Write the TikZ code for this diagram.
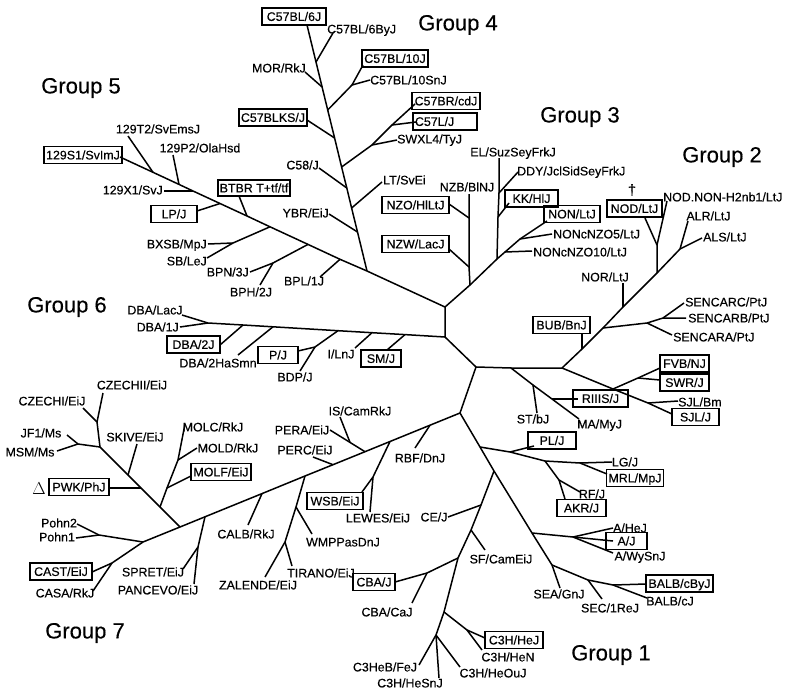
\documentclass[tikz,border=0pt]{standalone}
\usepackage{fontspec}
\setmainfont{Liberation Sans}[FakeBold=0.35]
\begin{document}
\begin{tikzpicture}[x=1pt,y=-1pt,
  edge/.style={line width=1.5pt,line join=round},
  lbl/.style={inner sep=0pt,text height=8.8pt,text depth=0pt,font=\fontsize{12.4}{14}\selectfont},
  bx/.style={draw,line width=1.6pt,inner xsep=2pt,inner ysep=0pt,minimum height=17pt,text height=8.8pt,text depth=0pt,font=\fontsize{12.4}{14}\selectfont},
  grp/.style={inner sep=0pt,font=\fontsize{22}{26}\selectfont}]
\useasboundingbox (0,0) rectangle (789,696);
% ---------------- core
\coordinate (c1) at (445,307);
\coordinate (c2) at (445,337);
\coordinate (c3) at (476,367);
\coordinate (c4) at (460,413);
\coordinate (c5) at (562,368);
\coordinate (m1) at (511,368);
\draw[edge] (c1) -- (c2) -- (c3) -- (c4);
\draw[edge] (c3) -- (m1) -- (c5);
% ---------------- group 5 line
\coordinate (g4j) at (367,271);
\coordinate (bplj) at (340,259.3);
\coordinate (bpnj) at (308,244.4);
\coordinate (bxj) at (270,226.8);
\coordinate (btj) at (247,216);
\coordinate (lpj) at (220,203.5);
\coordinate (x1j) at (193,191);
\coordinate (p2j) at (179,184.4);
\coordinate (t2j) at (153,172.3);
\coordinate (s1e) at (120,157);
\draw[edge] (c1) -- (g4j) -- (bplj) -- (bpnj) -- (bxj) -- (btj) -- (lpj) -- (x1j) -- (p2j) -- (t2j) -- (s1e);
\coordinate (bple) at (320,277);
\coordinate (bpnk) at (273,263);
\coordinate (bpne) at (250,272);
\coordinate (bphe) at (260,285);
\coordinate (bxk) at (233,243);
\coordinate (bxe) at (208,244);
\coordinate (sbe) at (207,258);
\coordinate (bte) at (239,196);
\coordinate (lpe) at (197,211);
\coordinate (x1e) at (164,191);
\coordinate (p2e) at (173,155);
\coordinate (t2e) at (128,136);
\draw[edge] (bplj) -- (bple);
\draw[edge] (bpnj) -- (bpnk) -- (bpne);
\draw[edge] (bpnk) -- (bphe);
\draw[edge] (bxj) -- (bxk) -- (bxe);
\draw[edge] (bxk) -- (sbe);
\draw[edge] (btj) -- (bte);
\draw[edge] (lpj) -- (lpe);
\draw[edge] (x1j) -- (x1e);
\draw[edge] (p2j) -- (p2e);
\draw[edge] (t2j) -- (t2e);
% ---------------- group 4 trunk
\coordinate (ybrj) at (357.5,232);
\coordinate (ltj) at (351.6,208);
\coordinate (c58j) at (346.8,188);
\coordinate (swj) at (341.6,167);
\coordinate (ksj) at (334.6,138);
\coordinate (b10j) at (327.7,110);
\coordinate (morj) at (322.1,87);
\coordinate (byj) at (316,62);
\coordinate (b6e) at (307,25);
\draw[edge] (g4j) -- (ybrj) -- (ltj) -- (c58j) -- (swj) -- (ksj) -- (b10j) -- (morj) -- (byj) -- (b6e);
\coordinate (ybre) at (329,214);
\coordinate (lte) at (382,182);
\coordinate (c58e) at (319,168);
\coordinate (swk) at (372,145);
\coordinate (swe) at (397,140);
\coordinate (clk) at (392,125);
\coordinate (cle) at (416,122);
\coordinate (cbre) at (415,104);
\coordinate (kse) at (307,120);
\coordinate (b10k) at (352,85);
\coordinate (b10se) at (370,80);
\coordinate (b10e) at (363,65);
\coordinate (more) at (305,72);
\coordinate (bye) at (333,33);
\draw[edge] (ybrj) -- (ybre);
\draw[edge] (ltj) -- (lte);
\draw[edge] (c58j) -- (c58e);
\draw[edge] (swj) -- (swk) -- (swe);
\draw[edge] (swk) -- (clk) -- (cle);
\draw[edge] (clk) -- (cbre);
\draw[edge] (ksj) -- (kse);
\draw[edge] (b10j) -- (b10k) -- (b10se);
\draw[edge] (b10k) -- (b10e);
\draw[edge] (morj) -- (more);
\draw[edge] (byj) -- (bye);
% ---------------- group 3
\coordinate (nzbj) at (470,285);
\coordinate (elj) at (497,259);
\coordinate (n10j) at (505,252);
\coordinate (n5j) at (520,239);
\coordinate (none) at (547,221);
\draw[edge] (c1) -- (nzbj) -- (elj) -- (n10j) -- (n5j) -- (none);
\coordinate (nzbk1) at (469,267);
\coordinate (nzbk2) at (469,218);
\coordinate (nzbe) at (469,194);
\coordinate (nzwe) at (449,249);
\coordinate (nzoe) at (449,204);
\draw[edge] (nzbj) -- (nzbk1) -- (nzbk2) -- (nzbe);
\draw[edge] (nzbk1) -- (nzwe);
\draw[edge] (nzbk2) -- (nzoe);
\coordinate (elk1) at (498,217);
\coordinate (elk2) at (499,193);
\coordinate (ele) at (499,158);
\coordinate (kke) at (509,203);
\coordinate (ddye) at (518,172);
\coordinate (n10e) at (532,251);
\coordinate (n5e) at (552,234);
\draw[edge] (elj) -- (elk1) -- (elk2) -- (ele);
\draw[edge] (elk1) -- (kke);
\draw[edge] (elk2) -- (ddye);
\draw[edge] (n10j) -- (n10e);
\draw[edge] (n5j) -- (n5e);
% ---------------- group 6
\coordinate (smj) at (405,334.6);
\coordinate (ilj) at (372,332.7);
\coordinate (pjj) at (338,330.7);
\coordinate (d2hj) at (273,326.8);
\coordinate (d2j) at (243,325);
\coordinate (d6e) at (208,323);
\draw[edge] (c2) -- (smj) -- (ilj) -- (pjj) -- (d2hj) -- (d2j) -- (d6e);
\coordinate (sme) at (387,350);
\coordinate (ile) at (355,348);
\coordinate (pjk) at (315,347);
\coordinate (pje) at (298,351);
\coordinate (bdpe) at (300,371);
\coordinate (d2he) at (238,355);
\coordinate (d2e) at (220,345);
\coordinate (d1e) at (180,327);
\coordinate (dlace) at (182,315);
\draw[edge] (smj) -- (sme);
\draw[edge] (ilj) -- (ile);
\draw[edge] (pjj) -- (pjk) -- (pje);
\draw[edge] (pjk) -- (bdpe);
\draw[edge] (d2hj) -- (d2he);
\draw[edge] (d2j) -- (d2e);
\draw[edge] (d6e) -- (d1e);
\draw[edge] (d6e) -- (dlace);
% ---------------- group 2
\coordinate (bubj) at (582,349);
\coordinate (senj) at (603,328);
\coordinate (norj) at (623,307);
\coordinate (nodj) at (657,273);
\coordinate (alrj) at (680,249);
\draw[edge] (c5) -- (bubj) -- (senj) -- (norj) -- (nodj) -- (alrj);
\coordinate (bube) at (582,334);
\coordinate (senk1) at (647,323);
\coordinate (sena) at (672,335);
\coordinate (senk2) at (663,318);
\coordinate (senb) at (686,318);
\coordinate (senc) at (684,303);
\coordinate (nore) at (623,283);
\coordinate (nodk) at (657,245);
\coordinate (node) at (645,218);
\coordinate (nonhe) at (667,201);
\coordinate (alre) at (688,221);
\coordinate (alse) at (702,238);
\draw[edge] (bubj) -- (bube);
\draw[edge] (senj) -- (senk1) -- (sena);
\draw[edge] (senk1) -- (senk2) -- (senb);
\draw[edge] (senk2) -- (senc);
\draw[edge] (norj) -- (nore);
\draw[edge] (nodj) -- (nodk) -- (node);
\draw[edge] (nodk) -- (nonhe);
\draw[edge] (alrj) -- (alre);
\draw[edge] (alrj) -- (alse);
% FVB / SJL
\coordinate (fvbj) at (613,389);
\coordinate (sjlj) at (648,403);
\coordinate (sjle) at (672,414);
\coordinate (swrj) at (638,378);
\coordinate (fvbe) at (660,368);
\coordinate (swre) at (660,380);
\coordinate (sjlbe) at (678,401);
\draw[edge] (c5) -- (fvbj) -- (sjlj) -- (sjle);
\draw[edge] (fvbj) -- (swrj) -- (fvbe);
\draw[edge] (swrj) -- (swre);
\draw[edge] (sjlj) -- (sjlbe);
% ST / RIIIS / MA
\coordinate (stj) at (533,385);
\coordinate (riij) at (552,399);
\coordinate (mae) at (579,419);
\coordinate (ste) at (537,413);
\coordinate (riie) at (578,399);
\draw[edge] (m1) -- (stj) -- (riij) -- (mae);
\draw[edge] (stj) -- (ste);
\draw[edge] (riij) -- (riie);
% ---------------- group 1
\coordinate (g1a) at (480,447);
\coordinate (g1b) at (494,471);
\coordinate (g1c) at (532,533);
\coordinate (g1d) at (552,565);
\coordinate (seae) at (560,588);
\draw[edge] (c4) -- (g1a) -- (g1b) -- (g1c) -- (g1d) -- (seae);
\coordinate (plj) at (510,452);
\coordinate (akrj) at (545,461);
\coordinate (lgj) at (580,463);
\coordinate (lge) at (612,462);
\coordinate (mrle) at (607,474);
\coordinate (ple) at (534,446);
\coordinate (rfj) at (559,480);
\coordinate (rfe) at (580,492);
\coordinate (akre) at (565,499);
\draw[edge] (g1a) -- (plj) -- (akrj) -- (lgj) -- (lge);
\draw[edge] (lgj) -- (mrle);
\draw[edge] (plj) -- (ple);
\draw[edge] (akrj) -- (rfj) -- (rfe);
\draw[edge] (rfj) -- (akre);
\coordinate (aj) at (573,537);
\coordinate (ahe) at (613,528);
\coordinate (aje) at (613,541);
\coordinate (awe) at (613,553);
\draw[edge] (g1c) -- (aj) -- (ahe);
\draw[edge] (aj) -- (aje);
\draw[edge] (aj) -- (awe);
\coordinate (bj1) at (588,580);
\coordinate (bj2) at (613,585);
\coordinate (bcbye) at (646,584);
\coordinate (bce) at (647,598);
\coordinate (sece) at (602,599);
\draw[edge] (g1d) -- (bj1) -- (bj2) -- (bcbye);
\draw[edge] (bj2) -- (bce);
\draw[edge] (bj1) -- (sece);
\coordinate (cej) at (481,505);
\coordinate (sfj) at (471,530);
\coordinate (cbaj) at (458,558);
\coordinate (c3j1) at (444,612);
\coordinate (c3j2) at (436,635);
\draw[edge] (g1b) -- (cej) -- (sfj) -- (cbaj) -- (c3j1) -- (c3j2);
\coordinate (cee) at (448,517);
\coordinate (sfe) at (485,550);
\coordinate (cbak) at (427,573);
\coordinate (cbae) at (395,582);
\coordinate (cbcae) at (412,603);
\coordinate (c3k) at (467,630);
\coordinate (c3hje) at (485,638);
\coordinate (c3hne) at (482,650);
\coordinate (c3hebe) at (419,665);
\coordinate (snje) at (439,678);
\coordinate (ouje) at (460,667);
\draw[edge] (cej) -- (cee);
\draw[edge] (sfj) -- (sfe);
\draw[edge] (cbaj) -- (cbak) -- (cbae);
\draw[edge] (cbak) -- (cbcae);
\draw[edge] (c3j1) -- (c3k) -- (c3hje);
\draw[edge] (c3k) -- (c3hne);
\draw[edge] (c3j2) -- (c3hebe);
\draw[edge] (c3j2) -- (snje);
\draw[edge] (c3j2) -- (ouje);
% ---------------- group 7
\coordinate (rbfj) at (430,425.2);
\coordinate (wsbj) at (390,441.5);
\coordinate (peraj) at (365,451.7);
\coordinate (percj) at (333,464.7);
\coordinate (zalj) at (305,476);
\coordinate (calbj) at (262,493.6);
\coordinate (spj) at (205,516.8);
\coordinate (subj) at (180,527);
\coordinate (pohnj) at (143,542);
\coordinate (casaj) at (112,563);
\coordinate (caste) at (92,572);
\draw[edge] (c4) -- (rbfj) -- (wsbj) -- (peraj) -- (percj) -- (zalj) -- (calbj) -- (spj) -- (subj) -- (pohnj) -- (casaj) -- (caste);
\coordinate (rbfe) at (415,448);
\coordinate (wsbk) at (373,477);
\coordinate (wsbe) at (362,492);
\coordinate (lewe) at (370,512);
\coordinate (isj) at (350,442.4);
\coordinate (perae) at (330,430);
\coordinate (ise) at (340,417);
\coordinate (perce) at (313,457);
\coordinate (wmpj) at (296,507);
\coordinate (zalk) at (285,542);
\coordinate (zale) at (265,577);
\coordinate (tire) at (292,566);
\coordinate (wmpe) at (312,534);
\coordinate (calbe) at (248,525);
\coordinate (spk) at (198,547);
\coordinate (spre) at (183,569);
\coordinate (pane) at (194,584);
\draw[edge] (rbfj) -- (rbfe);
\draw[edge] (wsbj) -- (wsbk) -- (wsbe);
\draw[edge] (wsbk) -- (lewe);
\draw[edge] (peraj) -- (isj) -- (perae);
\draw[edge] (isj) -- (ise);
\draw[edge] (percj) -- (perce);
\draw[edge] (zalj) -- (wmpj) -- (zalk) -- (zale);
\draw[edge] (zalk) -- (tire);
\draw[edge] (wmpj) -- (wmpe);
\draw[edge] (calbj) -- (calbe);
\draw[edge] (spj) -- (spk) -- (spre);
\draw[edge] (spk) -- (pane);
\coordinate (molj) at (160,507);
\coordinate (pwkj) at (141,488);
\coordinate (skj) at (128,475);
\coordinate (sub2) at (100,447);
\coordinate (czj) at (97,422);
\coordinate (cz2e) at (103,393);
\coordinate (cz1e) at (83,408);
\draw[edge] (subj) -- (molj) -- (pwkj) -- (skj) -- (sub2) -- (czj) -- (cz2e);
\draw[edge] (czj) -- (cz1e);
\coordinate (molfj) at (167,488);
\coordinate (moldj) at (178,460);
\coordinate (molce) at (185,424);
\coordinate (molfe) at (191,476);
\coordinate (molde) at (197,448);
\draw[edge] (molj) -- (molfj) -- (moldj) -- (molce);
\draw[edge] (molfj) -- (molfe);
\draw[edge] (moldj) -- (molde);
\coordinate (pwke) at (109,488);
\coordinate (ske) at (137,444);
\coordinate (jfj) at (78,444);
\coordinate (jfe) at (67,435);
\coordinate (msme) at (57,451);
\draw[edge] (pwkj) -- (pwke);
\draw[edge] (skj) -- (ske);
\draw[edge] (sub2) -- (jfj) -- (jfe);
\draw[edge] (jfj) -- (msme);
\coordinate (pohk) at (99,535);
\coordinate (poh2e) at (77,524);
\coordinate (poh1e) at (76,538);
\coordinate (casae) at (93,591);
\draw[edge] (pohnj) -- (pohk) -- (poh2e);
\draw[edge] (pohk) -- (poh1e);
\draw[edge] (casaj) -- (casae);
% ================= labels
% group 5
\node[lbl] (l129t2) at (158,129) {129T2/SvEmsJ};
\node[lbl] (l129p2) at (200,148) {129P2/OlaHsd};
\node[lbl,anchor=east] (l129x1) at (163,190) {129X1/SvJ};
\node[lbl,anchor=east] (lbxsb) at (207,244) {BXSB/MpJ};
\node[lbl,anchor=east] (lsb) at (207,261) {SB/LeJ};
\node[lbl,anchor=east] (lbpn) at (249,272) {BPN/3J};
\node[lbl] (lbph) at (251,292) {BPH/2J};
\node[lbl] (lbpl) at (304,281) {BPL/1J};
\node[bx,minimum width=74pt] (b129s1) at (83,155) {129S1/SvImJ};
\node[bx,minimum width=72pt,minimum height=16pt] (bbtbr) at (254,188) {BTBR T+tf/tf};
\node[bx,minimum width=46pt] (blp) at (174,214) {LP/J};
\node[grp] (grp5) at (81,88) {Group 5};
% group 4
\node[bx,minimum width=64pt] (bb6j) at (294,16.5) {C57BL/6J};
\node[lbl,anchor=west] (lbyj) at (327,29) {C57BL/6ByJ};
\node[lbl,anchor=east] (lmor) at (306,68) {MOR/RkJ};
\node[bx,minimum width=66pt] (bb10) at (395,58.5) {C57BL/10J};
\node[lbl,anchor=west] (lb10sn) at (370,80) {C57BL/10SnJ};
\node[bx,minimum width=68pt] (bks) at (273,117.5) {C57BLKS/J};
\node[bx,minimum width=68pt] (bbr) at (446,101) {C57BR/cdJ};
\node[bx,text width=60pt,align=left] (bcl) at (445,121.5) {C57L/J};
\node[lbl,anchor=west] (lsw) at (397,139) {SWXL4/TyJ};
\node[lbl,anchor=east] (lc58) at (319,165) {C58/J};
\node[lbl,anchor=west] (llt) at (383,180) {LT/SvEi};
\node[lbl,anchor=east] (lybr) at (329,213) {YBR/EiJ};
\node[grp] (grp4) at (458,25) {Group 4};
% group 3
\node[lbl] (lel) at (513,152) {EL/SuzSeyFrkJ};
\node[lbl,anchor=west] (lddy) at (517,171) {DDY/JclSidSeyFrkJ};
\node[lbl] (lnzb) at (467,187) {NZB/BlNJ};
\node[bx,minimum width=67pt] (bnzo) at (415.5,205) {NZO/HlLtJ};
\node[bx,minimum width=67pt] (bnzw) at (415.5,244) {NZW/LacJ};
\node[bx,minimum width=53pt] (bkk) at (531.5,198.5) {KK/HlJ};
\node[bx,minimum width=56pt] (bnon) at (572,214) {NON/LtJ};
\node[lbl,anchor=west] (ln5) at (553,234) {NONcNZO5/LtJ};
\node[lbl,anchor=west] (ln10) at (533,252) {NONcNZO10/LtJ};
\node[grp] (grp3) at (580,117) {Group 3};
% group 2
\node[bx,minimum width=55pt] (bnod) at (634.5,208.5) {NOD/LtJ};
\node[inner sep=0pt,font=\fontsize{15}{16}\selectfont] (dag) at (632,190) {†};
\node[lbl,anchor=west] (lnodnon) at (663,197) {NOD.NON-H2nb1/LtJ};
\node[lbl] (lalr) at (708.5,216) {ALR/LtJ};
\node[lbl,anchor=west] (lals) at (703,237) {ALS/LtJ};
\node[lbl] (lnor) at (605,277) {NOR/LtJ};
\node[lbl,anchor=west] (lsenc) at (685,302) {SENCARC/PtJ};
\node[lbl,anchor=west] (lsenb) at (688,318) {SENCARB/PtJ};
\node[lbl,anchor=west] (lsena) at (673,337) {SENCARA/PtJ};
\node[bx,minimum width=57pt] (bbub) at (561.5,325) {BUB/BnJ};
\node[bx,minimum width=49pt] (bfvb) at (684.5,363.5) {FVB/NJ};
\node[bx,minimum width=49pt] (bswr) at (684.5,382.5) {SWR/J};
\node[bx,minimum width=55pt] (briiis) at (600.5,398.5) {RIIIS/J};
\node[lbl,anchor=west] (lsjlbm) at (678,402) {SJL/Bm};
\node[bx,minimum width=47pt] (bsjl) at (695.5,417) {SJL/J};
\node[lbl] (lst) at (533,419) {ST/bJ};
\node[lbl,anchor=west] (lma) at (577,424) {MA/MyJ};
\node[grp] (grp2) at (722,157) {Group 2};
% group 6
\node[lbl] (ldbalac) at (155,310) {DBA/LacJ};
\node[lbl,anchor=east] (ldba1) at (179,327) {DBA/1J};
\node[bx,minimum width=53pt] (bdba2) at (193.5,344.5) {DBA/2J};
\node[lbl] (ldba2ha) at (218,363) {DBA/2HaSmn};
\node[bx,minimum width=40pt] (bpj) at (278,355) {P/J};
\node[lbl] (lbdp) at (295,377) {BDP/J};
\node[lbl] (liln) at (341,354) {I/LnJ};
\node[bx,minimum width=40pt] (bsm) at (381,358.5) {SM/J};
\node[grp] (grp6) at (67,307) {Group 6};
% group 7
\node[lbl] (lcz2) at (132,385) {CZECHII/EiJ};
\node[lbl] (lcz1) at (52,401) {CZECHI/EiJ};
\node[lbl] (ljf1) at (41,433) {JF1/Ms};
\node[lbl] (lmsm) at (30,452) {MSM/Ms};
\node[lbl] (lskive) at (135,437) {SKIVE/EiJ};
\node[lbl] (lmolc) at (213,427) {MOLC/RkJ};
\node[lbl] (lmold) at (228,448) {MOLD/RkJ};
\node[bx,minimum width=60pt] (bmolf) at (221,472) {MOLF/EiJ};
\node[inner sep=0pt] (ldelta) at (39,489) {\fontsize{16}{18}\selectfont$\Delta$};
\node[bx,minimum width=60pt] (bpwk) at (79,487) {PWK/PhJ};
\node[lbl] (lpohn2) at (59,523) {Pohn2};
\node[lbl] (lpohn1) at (57,537) {Pohn1};
\node[bx,minimum width=62pt] (bcast) at (61,571.5) {CAST/EiJ};
\node[lbl] (lcasa) at (65,593) {CASA/RkJ};
\node[lbl] (lspret) at (153,572) {SPRET/EiJ};
\node[lbl] (lpanc) at (158,590) {PANCEVO/EiJ};
\node[lbl] (lcalb) at (246,534) {CALB/RkJ};
\node[lbl] (lzal) at (258,585) {ZALENDE/EiJ};
\node[lbl] (ltir) at (321,573) {TIRANO/EiJ};
\node[lbl] (lwmp) at (343,542) {WMPPasDnJ};
\node[lbl] (lperc) at (305,450) {PERC/EiJ};
\node[lbl] (lpera) at (302,430) {PERA/EiJ};
\node[lbl] (lis) at (360,411) {IS/CamRkJ};
\node[bx,minimum width=56pt] (bwsb) at (335,501) {WSB/EiJ};
\node[lbl] (llewes) at (378,518) {LEWES/EiJ};
\node[lbl] (lrbf) at (420,458) {RBF/DnJ};
\node[grp] (grp7) at (85,633) {Group 7};
% group 1
\node[lbl] (lce) at (434,517) {CE/J};
\node[lbl] (lsf) at (501,559) {SF/CamEiJ};
\node[bx,minimum width=42pt] (bcba) at (374,582) {CBA/J};
\node[lbl] (lcbaca) at (387,612) {CBA/CaJ};
\node[bx,minimum width=58pt] (bc3h) at (514,640) {C3H/HeJ};
\node[lbl] (lc3hn) at (508,657) {C3H/HeN};
\node[lbl] (lc3heb) at (385,667) {C3HeB/FeJ};
\node[lbl] (lc3hsn) at (410,683) {C3H/HeSnJ};
\node[lbl] (lc3hou) at (493,673) {C3H/HeOuJ};
\node[lbl] (lsea) at (559,594) {SEA/GnJ};
\node[lbl] (lsec) at (610,608) {SEC/1ReJ};
\node[bx,minimum width=67pt] (bbalb) at (679.5,583.5) {BALB/cByJ};
\node[lbl] (lbalbc) at (670,601) {BALB/cJ};
\node[lbl] (lahej) at (630,528) {A/HeJ};
\node[bx,minimum width=41pt] (baj) at (626.5,541) {A/J};
\node[lbl] (lawy) at (640,556) {A/WySnJ};
\node[bx,minimum width=48pt] (bpl) at (552,440.5) {PL/J};
\node[lbl] (llg) at (625,462) {LG/J};
\node[bx,minimum width=56pt] (bmrl) at (635,478) {MRL/MpJ};
\node[lbl] (lrf) at (592,494) {RF/J};
\node[bx,minimum width=49pt] (bakr) at (581.5,508) {AKR/J};
\node[grp] (grp1) at (611,655) {Group 1};
\end{tikzpicture}
\end{document}
